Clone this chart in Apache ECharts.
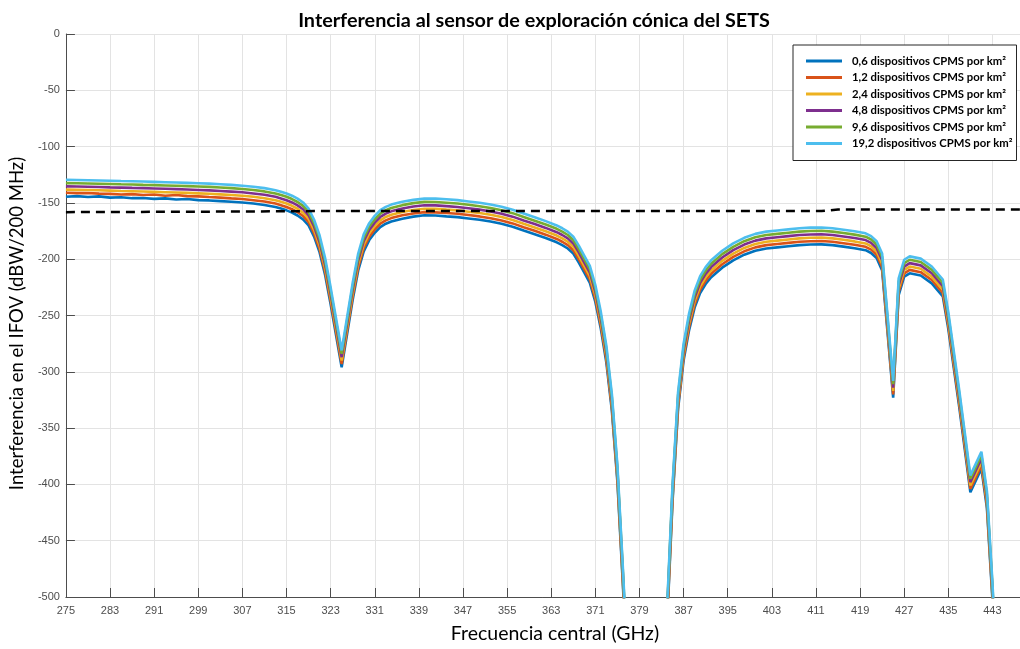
<!DOCTYPE html>
<html>
<head>
<meta charset="utf-8">
<script src="https://cdn.jsdelivr.net/npm/echarts@6/dist/echarts.min.js"></script>
<style>
  html, body { margin: 0; padding: 0; background: #fff; overflow: hidden; }
  #chart { width: 1020px; height: 649px; }
</style>
</head>
<body>
<div id="chart"></div>
<script>
// Central frequencies (GHz); null entries break the curves where they fall far below the axis.
const freq = [275,277,279,281,283,285,287,289,291,293,295,297,299,301,303,305,307,309,311,313,
  314,315,316,317,318,319,320,321,322,323,324,325,326,327,328,329,330,331,332,333,334,
  336,338,340,342,344,346,348,350,352,354,356,358,360,362,
  364,365,366,367,368,369,370,371,372,373,374,375,376,377,380,
  384,385,386,387,388,389,390,391,392,
  394,396,398,400,402,404,406,408,410,412,414,416,418,420,
  421,422,423,424,425,426,427,428,430,432,434,435,437,439,441,442,443,444];

// Interference in the IFOV (dBW/200 MHz) for each CPMS device density.
const d06 = [-144.5,-144.0,-144.8,-144.2,-145.3,-145.0,-145.8,-145.6,-146.4,-146.0,-147.0,-146.6,-147.5,-147.8,-148.4,-149.0,-149.6,-150.6,-151.8,-153.6,
  -155.0,-156.6,-158.6,-161.2,-164.6,-170.0,-180.0,-194.0,-214.0,-240.0,-268.0,-296.0,-266.0,-236.0,-210.0,-193.0,-183.0,-176.5,-171.5,-168.5,-166.5,
  -164.0,-162.2,-161.0,-161.2,-162.0,-162.6,-163.8,-165.0,-166.6,-168.6,-171.2,-174.6,-177.8,-181.2,
  -185.0,-187.5,-190.5,-195.0,-203.0,-212.0,-221.0,-238.0,-262.0,-292.0,-335.0,-398.0,-490.0,-590.0,null,
  -525,-415,-333,-290,-263,-243,-230,-222,-216,
  -207.5,-201,-196,-192.5,-190.5,-189.5,-188.5,-187.5,-187,-186.8,-187.5,-188.8,-190.2,-192,
  -194.5,-199,-210,-266,-323,-232,-215.5,-212.5,-214.5,-221.5,-233,-262,-332,-407,-386,-421,-502,-600];

const d12 = [-141.0,-141.3,-141.2,-141.8,-142.0,-142.5,-142.2,-143.0,-142.6,-143.6,-143.0,-144.0,-144.2,-144.8,-145.3,-146.0,-146.6,-147.6,-148.8,-150.6,
  -152.0,-153.6,-155.6,-158.2,-161.6,-167.0,-177.0,-191.0,-211.0,-237.0,-265.0,-293.0,-263.0,-233.0,-207.0,-190.0,-180.0,-173.5,-168.5,-165.5,-163.5,
  -161.0,-159.4,-158.2,-158.4,-159.0,-159.6,-160.8,-162.0,-163.6,-165.6,-168.2,-171.6,-174.8,-178.2,
  -182.0,-184.5,-187.5,-192.0,-200.0,-209.0,-218.0,-235.0,-259.0,-289.0,-332.0,-395.0,-487.0,-587.0,null,
  -522,-412,-330,-287,-260,-240,-227,-219,-213,
  -204.5,-198,-193,-189.5,-187.5,-186.5,-185.5,-184.5,-184,-183.8,-184.5,-185.8,-187.2,-189,
  -191.5,-196,-207,-263,-320,-229,-212.5,-209.5,-211.5,-218.5,-230,-259,-329,-404,-383,-418,-499,-597];

const d24 = [-138.2,-138.4,-138.6,-138.8,-139.1,-139.4,-139.6,-139.9,-140.2,-140.5,-140.8,-141.1,-141.5,-141.9,-142.4,-143.0,-143.6,-144.6,-145.8,-147.6,
  -149.0,-150.6,-152.6,-155.2,-158.6,-164.0,-174.0,-188.0,-208.0,-234.0,-262.0,-290.0,-260.0,-230.0,-204.0,-187.0,-177.0,-170.5,-165.5,-162.5,-160.5,
  -158.0,-156.3,-155.2,-155.3,-156.0,-156.6,-157.8,-159.0,-160.6,-162.6,-165.2,-168.6,-171.8,-175.2,
  -179.0,-181.5,-184.5,-189.0,-197.0,-206.0,-215.0,-232.0,-256.0,-286.0,-329.0,-392.0,-484.0,-584.0,null,
  -519,-409,-327,-284,-257,-237,-224,-216,-210,
  -201.5,-195,-190,-186.5,-184.5,-183.5,-182.5,-181.5,-181,-180.8,-181.5,-182.8,-184.2,-186,
  -188.5,-193,-204,-260,-317,-226,-209.5,-206.5,-208.5,-215.5,-227,-256,-326,-401,-380,-415,-496,-594];

const d48 = [-135.3,-135.5,-135.7,-135.9,-136.2,-136.4,-136.7,-136.9,-137.2,-137.5,-137.8,-138.1,-138.5,-138.9,-139.4,-140.0,-140.6,-141.6,-142.8,-144.6,
  -146.0,-147.6,-149.6,-152.2,-155.6,-161.0,-171.0,-185.0,-205.0,-231.0,-259.0,-287.0,-257.0,-227.0,-201.0,-184.0,-174.0,-167.5,-162.5,-159.5,-157.5,
  -155.0,-153.2,-152.1,-152.2,-152.9,-153.6,-154.8,-156.0,-157.6,-159.6,-162.2,-165.6,-168.8,-172.2,
  -176.0,-178.5,-181.5,-186.0,-194.0,-203.0,-212.0,-229.0,-253.0,-283.0,-326.0,-389.0,-481.0,-581.0,null,
  -516,-406,-324,-281,-254,-234,-221,-213,-207,
  -198.5,-192,-187,-183.5,-181.5,-180.5,-179.5,-178.5,-178,-177.8,-178.5,-179.8,-181.2,-183,
  -185.5,-190,-201,-257,-314,-223,-206.5,-203.5,-205.5,-212.5,-224,-253,-323,-398,-377,-412,-493,-591];

const d96 = [-132.4,-132.6,-132.8,-133.0,-133.2,-133.5,-133.7,-134.0,-134.2,-134.5,-134.8,-135.1,-135.4,-135.8,-136.3,-136.9,-137.6,-138.6,-139.8,-141.6,
  -143.0,-144.6,-146.6,-149.2,-152.6,-158.0,-168.0,-182.0,-202.0,-228.0,-256.0,-284.0,-254.0,-224.0,-198.0,-181.0,-171.0,-164.5,-159.5,-156.5,-154.5,
  -152.0,-150.2,-149.1,-149.2,-149.8,-150.5,-151.7,-152.9,-154.5,-156.5,-159.1,-162.5,-165.8,-169.2,
  -173.0,-175.5,-178.5,-183.0,-191.0,-200.0,-209.0,-226.0,-250.0,-280.0,-323.0,-386.0,-478.0,-578.0,null,
  -513,-403,-321,-278,-251,-231,-218,-210,-204,
  -195.5,-189,-184,-180.5,-178.5,-177.5,-176.5,-175.5,-175,-174.8,-175.5,-176.8,-178.2,-180,
  -182.5,-187,-198,-254,-311,-220,-203.5,-200.5,-202.5,-209.5,-221,-250,-320,-395,-374,-409,-490,-588];

const d192 = [-129.5,-129.7,-129.9,-130.1,-130.3,-130.6,-130.8,-131.0,-131.3,-131.6,-131.9,-132.2,-132.5,-132.9,-133.4,-134.0,-134.7,-135.7,-136.9,-138.7,
  -140.0,-141.6,-143.6,-146.2,-149.6,-155.0,-165.0,-179.0,-199.0,-225.0,-253.0,-281.0,-251.0,-221.0,-195.0,-178.0,-168.0,-161.5,-156.5,-153.5,-151.5,
  -149.0,-147.3,-146.2,-146.2,-146.8,-147.5,-148.7,-149.9,-151.5,-153.5,-156.1,-159.5,-162.8,-166.2,
  -170.0,-172.5,-175.5,-180.0,-188.0,-197.0,-206.0,-223.0,-247.0,-277.0,-320.0,-383.0,-475.0,-575.0,null,
  -510,-400,-318,-275,-248,-228,-215,-207,-201,
  -192.5,-186,-181,-177.5,-175.5,-174.5,-173.5,-172.5,-172,-171.8,-172.5,-173.8,-175.2,-177,
  -179.5,-184,-195,-251,-308,-217,-200.5,-197.5,-199.5,-206.5,-218,-247,-317,-392,-371,-406,-487,-585];

// Protection threshold (dashed line).
const thrFreq = [275, 300, 320, 412, 415, 448];
const thrVals = [-158.2, -157.8, -157.3, -157.2, -155.9, -155.8];

const seriesNames = [
  '0,6 dispositivos CPMS por km²',
  '1,2 dispositivos CPMS por km²',
  '2,4 dispositivos CPMS por km²',
  '4,8 dispositivos CPMS por km²',
  '9,6 dispositivos CPMS por km²',
  '19,2 dispositivos CPMS por km²'
];
const seriesValues = [d06, d12, d24, d48, d96, d192];
const seriesColors = ['#0072BD', '#D95319', '#EDB120', '#7E2F8E', '#77AC30', '#4DBEEE'];

// The frequency axis runs from 275 GHz with a tick every 8 GHz; it is drawn
// as an offset from 275 so that the ticks start at the axis minimum.
const F0 = 275;
const FMAX = 448;

const pairs = (xs, ys) => xs.map((x, i) => [x - F0, ys[i]]);

const curveSeries = seriesValues.map((vals, k) => ({
  name: seriesNames[k],
  type: 'line',
  data: pairs(freq, vals),
  showSymbol: false,
  symbol: 'none',
  connectNulls: false,
  clip: true,
  z: 3 + k,
  lineStyle: { color: seriesColors[k], width: 2.6 },
  itemStyle: { color: seriesColors[k] },
  emphasis: { disabled: true }
}));

const threshold = {
  name: 'umbral',
  type: 'line',
  data: pairs(thrFreq, thrVals),
  showSymbol: false,
  symbol: 'none',
  clip: true,
  z: 10,
  lineStyle: { color: '#000', width: 2.5, type: [9, 6] },
  emphasis: { disabled: true }
};

const chart = echarts.init(document.getElementById('chart'), null, { renderer: 'canvas' });

chart.setOption({
  animation: false,
  backgroundColor: '#fff',
  textStyle: { fontFamily: 'Lato' },
  title: {
    text: 'Interferencia al sensor de exploración cónica del SETS',
    left: 529,
    top: 6,
    textAlign: 'center',
    textStyle: { fontFamily: 'Lato', fontWeight: 'bold', fontSize: 19.8, color: '#000' }
  },
  grid: { left: 63, right: 0, top: 34, bottom: 48.5, containLabel: false },
  legend: {
    data: seriesNames,
    orient: 'vertical',
    left: 793,
    top: 45,
    backgroundColor: '#fff',
    borderColor: '#262626',
    borderWidth: 1,
    borderRadius: 0,
    padding: [9, 4, 10, 13],
    itemGap: 2.5,
    itemWidth: 36,
    itemHeight: 3,
    icon: 'rect',
    textStyle: {
      fontFamily: 'Lato', fontWeight: 'bold', fontSize: 11.3, color: '#000',
      lineHeight: 14, padding: [0, 0, 0, 5]
    }
  },
  xAxis: {
    type: 'value',
    min: 0,
    max: FMAX - F0,
    interval: 8,
    name: 'Frecuencia central (GHz)',
    nameLocation: 'middle',
    nameGap: 27,
    nameTextStyle: { fontFamily: 'Lato', fontSize: 19.5, color: '#000', padding: [0, 0, 0, 24] },
    axisLine: { show: true, onZero: false, lineStyle: { color: '#4d4d4d', width: 1 } },
    axisTick: { show: true, inside: true, length: 9, lineStyle: { color: '#4d4d4d' } },
    axisLabel: {
      fontFamily: 'Liberation Sans', fontSize: 11, color: '#4d4d4d', margin: 8,
      showMaxLabel: false,
      formatter: v => String(v + F0)
    },
    splitLine: { show: true, lineStyle: { color: '#e3e3e3', width: 1 } }
  },
  yAxis: {
    type: 'value',
    min: -500,
    max: 0,
    interval: 50,
    name: 'Interferencia en el IFOV (dBW/200 MHz)',
    nameLocation: 'middle',
    nameGap: 26,
    nameTextStyle: { fontFamily: 'Lato', fontSize: 18.5, color: '#000', padding: [0, 16, 0, 0] },
    axisLine: { show: true, onZero: false, lineStyle: { color: '#4d4d4d', width: 1 } },
    axisTick: { show: true, inside: true, length: 9, lineStyle: { color: '#4d4d4d' } },
    axisLabel: { fontFamily: 'Liberation Sans', fontSize: 11, color: '#4d4d4d', margin: 6 },
    splitLine: { show: true, lineStyle: { color: '#e3e3e3', width: 1 } }
  },
  series: [...curveSeries, threshold]
});
</script>
</body>
</html>
